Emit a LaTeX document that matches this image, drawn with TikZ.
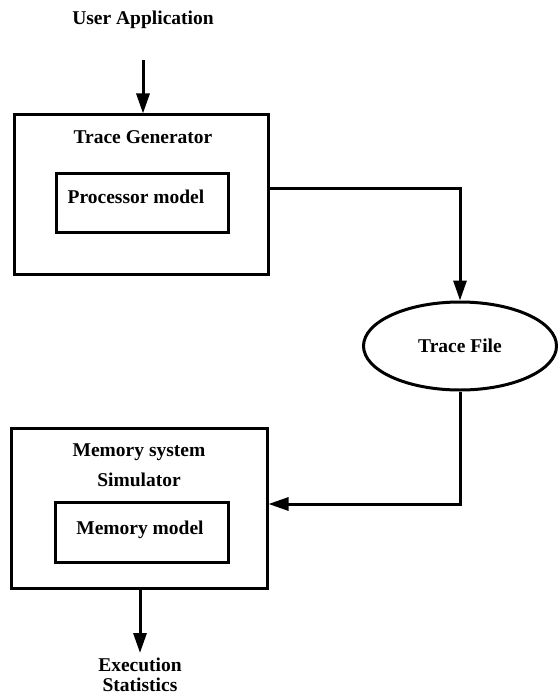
\documentclass[tikz,border=0pt]{standalone}
\usepackage{fontspec}
\setmainfont{Liberation Serif}
\usetikzlibrary{arrows.meta,shapes.geometric}
\begin{document}
\begin{tikzpicture}[x=1pt,y=-1pt,
  lbl/.style={font=\fontsize{19.5}{22}\selectfont\bfseries, inner sep=0pt, align=center},
  box/.style={draw, line width=3pt, inner sep=0pt},
  arr/.style={line width=3pt, -{Triangle[length=20pt,width=13pt]}},
  ln/.style={line width=3pt}]
\useasboundingbox (0,0) rectangle (557,695);
% top label
\node[lbl] (ua) at (143,20) {User Application};
% trace generator
\node[box, minimum width=254pt, minimum height=159pt] (tg) at (141,194.5) {};
\node[lbl] (tgt) at (143,137) {Trace Generator};
\node[box, minimum width=172pt, minimum height=59pt] (pm) at (142,202.5) {};
\node[lbl] (pmt) at (136,197) {Processor model};
% trace file
\node[draw, ellipse, line width=3pt, minimum width=193pt, minimum height=88pt, inner sep=0pt, lbl] (tf) at (460,346) {Trace File};
% memory system simulator
\node[box, minimum width=256pt, minimum height=160pt] (ms) at (139,508) {};
\node[lbl] (mst) at (139,452) {Memory system};
\node[lbl] (mss) at (139,480) {Simulator};
\node[box, minimum width=173pt, minimum height=60pt] (mm) at (141.5,532) {};
\node[lbl] (mmt) at (140,530) {Memory model};
% bottom label
\node[lbl, font=\fontsize{19.5}{20}\selectfont\bfseries] (es) at (140,675) {Execution\\Statistics};
% connectors
\coordinate (uastart) at (143,60);
\draw[arr] (uastart) -- (uastart |- tg.north);
\coordinate (tgout) at (tg.east |- 0,188);
\draw[arr] (tgout) -| (tf.north);
\coordinate (msin) at (ms.east |- 0,504);
\draw[arr] (tf.south) |- (msin);
\draw[arr] (ms.south -| 140,0) -- (140,653);
\end{tikzpicture}
\end{document}
